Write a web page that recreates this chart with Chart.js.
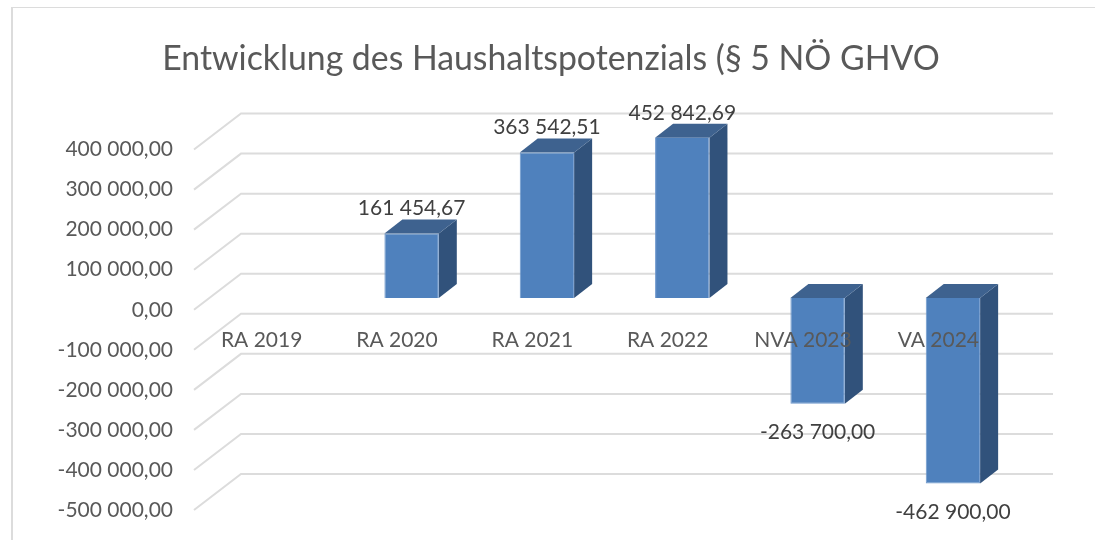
<!DOCTYPE html>
<html><head><meta charset="utf-8">
<style>
html,body{margin:0;padding:0;background:#fff;overflow:hidden}
#frame{position:absolute;left:11px;top:7px;right:0;bottom:0;border-left:2px solid #dcdcdc;border-top:1px solid #dcdcdc;pointer-events:none}
canvas{position:absolute;left:0;top:0}
</style>
<script src="https://cdn.jsdelivr.net/npm/chart.js@4"></script>
</head><body>
<div id="frame"></div>
<canvas id="c" width="1095" height="540"></canvas>
<script>
const titleText = 'Entwicklung des Haushaltspotenzials (§ 5 NÖ GHVO';
const categories = ['RA 2019','RA 2020','RA 2021','RA 2022','NVA 2023','VA 2024'];
const values = [null,161454.67,363542.51,452842.69,-263700,-462900];
const axisMin = -500000, axisMax = 400000, axisStep = 100000;

const FONT = 'Lato, Carlito, sans-serif';
const fmt = v => {
  const s = Math.abs(v).toFixed(2).split('.');
  return (v < 0 ? '-' : '') + s[0].replace(/\B(?=(\d{3})+$)/g,' ') + ',' + s[1];
};
const wall = {dx:47, dy:36};
const barShift = {dx:14.6, dy:11.7};
const depth = {dx:18, dy:14};

const walls = {
  id:'walls',
  afterLayout(chart){
    chart.titleBlock.left = 96;
    chart.titleBlock.right = chart.chartArea.right;
  },
  beforeDatasetsDraw(chart){
    const {ctx,chartArea:a,scales:{y}} = chart;
    ctx.save();
    ctx.strokeStyle='#dcdcdc'; ctx.lineWidth=2;
    y.ticks.forEach(t=>{
      const p=y.getPixelForValue(t.value);
      ctx.beginPath();
      ctx.moveTo(a.left,p);
      ctx.lineTo(a.left+wall.dx,p-wall.dy);
      ctx.lineTo(a.right+wall.dx,p-wall.dy);
      ctx.stroke();
    });
    ctx.restore();
    ctx.save();
    ctx.translate(barShift.dx,-barShift.dy);
    chart.getDatasetMeta(0).data.forEach((b,i)=>{
      if(values[i]===null) return;
      const w=b.width/2, top=Math.max(Math.min(b.y,b.base),a.top), bot=Math.min(Math.max(b.y,b.base),a.bottom);
      const r=b.x+w,l=b.x-w;
      ctx.fillStyle='#31527b';
      ctx.beginPath();ctx.moveTo(r,top);ctx.lineTo(r+depth.dx,top-depth.dy);ctx.lineTo(r+depth.dx,bot-depth.dy);ctx.lineTo(r,bot);ctx.closePath();ctx.fill();
      ctx.fillStyle='#3e628f';
      ctx.beginPath();ctx.moveTo(l,top);ctx.lineTo(l+depth.dx,top-depth.dy);ctx.lineTo(r+depth.dx,top-depth.dy);ctx.lineTo(r,top);ctx.closePath();ctx.fill();
    });
  },
  afterDatasetsDraw(chart){
    const {ctx,chartArea:a} = chart;
    ctx.restore();
    ctx.save();
    ctx.font='21px '+FONT; ctx.fillStyle='#404040'; ctx.textAlign='center'; ctx.textBaseline='middle';
    chart.getDatasetMeta(0).data.forEach((b,i)=>{
      const v=values[i]; if(v===null) return;
      const x=b.x+barShift.dx;
      const edge=v>0?Math.max(b.y,a.top)-barShift.dy-25:Math.min(b.y,a.bottom)-barShift.dy+29;
      ctx.fillText(fmt(v),x,edge);
    });
    ctx.restore();
  }
};

new Chart(document.getElementById('c'),{
  type:'bar',
  data:{labels:categories,datasets:[{data:values,backgroundColor:'#4f81bd',borderColor:'#6d97cc',borderWidth:1,categoryPercentage:1,barPercentage:0.402}]},
  plugins:[walls],
  options:{
    responsive:false,animation:false,
    layout:{padding:{left:0,right:89,top:39,bottom:30}},
    plugins:{
      legend:{display:false},tooltip:{enabled:false},
      title:{display:true,text:titleText,color:'#595959',font:{family:FONT,size:33.8,weight:'normal'},padding:{top:0,bottom:70}}
    },
    scales:{
      x:{position:{y:0},grid:{display:false,drawTicks:false},border:{display:false},
         afterFit(s){s.paddingTop=0;s.paddingBottom=0;s.height=0;},
         ticks:{z:1,color:'#595959',font:{family:FONT,size:21},padding:18,maxRotation:0,autoSkip:false}},
      y:{min:axisMin,max:axisMax,grid:{display:false,drawTicks:false},border:{display:false},
         afterFit(s){s.width=194;s.paddingTop=0;s.paddingBottom=0;},
         ticks:{stepSize:axisStep,color:'#595959',font:{family:FONT,size:21},padding:21,callback:v=>fmt(v)}}
    }
  }
});
</script>
</body></html>
